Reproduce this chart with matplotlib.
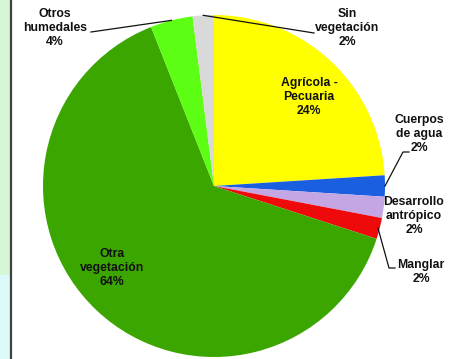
import numpy as np
import matplotlib
matplotlib.use("Agg")
import matplotlib.pyplot as plt
from matplotlib.patches import Rectangle
from matplotlib.lines import Line2D

# Land-cover shares (percent), clockwise from 12 o'clock
categories = ["Agrícola -\nPecuaria", "Cuerpos\nde agua", "Desarrollo\nantrópico",
              "Manglar", "Otra\nvegetación", "Otros\nhumedales", "Sin\nvegetación"]
values = [24, 2, 2, 2, 64, 4, 2]
colors = ["#FFFF00", "#1A5FE0", "#C4A6E4", "#EE0A0A", "#3CA600", "#5CFF14", "#D9D9D9"]

W, H = 464, 359
fig = plt.figure(figsize=(W / 100, H / 100), dpi=100)
fig.patch.set_facecolor("white")

# Decorative side strip with a dark rule
fig.patches.append(Rectangle((0, 84 / H), 10 / W, 1 - 84 / H, transform=fig.transFigure,
                             facecolor="#D6F6D8", edgecolor="none", zorder=0))
fig.patches.append(Rectangle((0, 0), 10 / W, 84 / H, transform=fig.transFigure,
                             facecolor="#DDFAFA", edgecolor="none", zorder=0))
fig.lines.append(Line2D([11 / W, 11 / W], [0, 1], transform=fig.transFigure,
                        color="#404040", lw=1.6, zorder=1))

cx, cy, r = 214, 186, 171
ax = fig.add_axes([(cx - r) / W, (H - cy - r) / H, 2 * r / W, 2 * r / H])
ax.set_facecolor("none")
wedges, _ = ax.pie(values, colors=colors, startangle=90, counterclock=False,
                   radius=1.0, wedgeprops=dict(linewidth=0))
ax.set_xlim(-1, 1)
ax.set_ylim(-1, 1)
ax.set_aspect("equal")
ax.axis("off")

font = dict(family=["Liberation Sans", "DejaVu Sans"], fontweight="bold",
            fontsize=8.8, ha="center", va="center", linespacing=1.25, color="#111111")


def px(x, y):
    """Pixel position -> data coordinates of the pie axes."""
    return (x - cx) / r, (cy - y) / r


def edge(i, rad=1.0):
    w = wedges[i]
    a = np.deg2rad((w.theta1 + w.theta2) / 2)
    return rad * np.cos(a), rad * np.sin(a)


labels = [f"{c}\n{v}%" for c, v in zip(categories, values)]
line_kw = dict(color="#111111", lw=0.9, clip_on=False)

# Labels inside the large slices
ax.text(*px(309, 97), labels[0], **font)
ax.text(*px(112, 268), labels[4], **font)

# Labels outside, with leader lines
ax.text(*px(55, 28), labels[5], **font)
x0, y0 = edge(5, 1.0)
ax.plot([x0, px(91, 32)[0]], [y0, px(91, 32)[1]], **line_kw)

ax.text(*px(347, 28), labels[6], **font)
x0, y0 = edge(6, 1.0)
ax.plot([x0, px(314, 33)[0]], [y0, px(314, 33)[1]], **line_kw)

ax.text(*px(419, 134), labels[1], **font)
x0, y0 = edge(1, 1.0)
p1, p2 = px(403, 152), px(409, 152)
ax.plot([x0, p1[0], p2[0]], [y0, p1[1], p2[1]], **line_kw)

ax.text(*px(414, 216), labels[2], **font)

ax.text(*px(421, 272), labels[3], **font)
x0, y0 = edge(3, 0.99)
p1, p2 = px(389, 268), px(395, 268)
ax.plot([x0, p1[0], p2[0]], [y0, p1[1], p2[1]], **line_kw)

fig.savefig("out.png", dpi=100)
